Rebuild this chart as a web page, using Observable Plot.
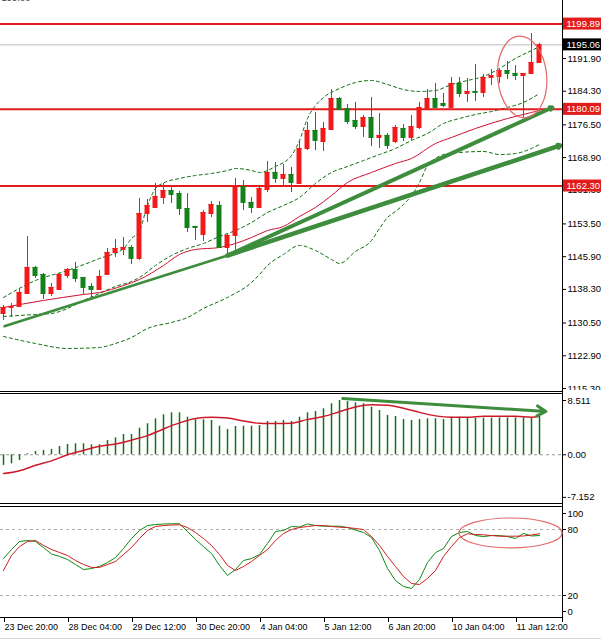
<!DOCTYPE html>
<html>
<head>
<meta charset="utf-8">
<script src="https://cdn.jsdelivr.net/npm/d3@7"></script>
<script src="https://cdn.jsdelivr.net/npm/@observablehq/plot@0.6"></script>
<style>
  html, body { margin: 0; padding: 0; background: #fff; }
  #chart { position: relative; width: 601px; height: 640px; overflow: hidden; background: #fff; }
  #chart svg { position: absolute; left: 0; }
</style>
</head>
<body>
<div id="chart"></div>
<script>
// ---------------- DATA ----------------
const open = [1132.71,1134.11,1134.34,1137.35,1143.39,1141.76,1137.35,1138.28,1141.53,1142.93,
  1141.07,1138.98,1138.28,1141.76,1146.87,1147.57,1148.03,1145.48,1155.92,1157.32,
  1159.64,1161.26,1160.56,1157.08,1152.91,1151.05,1155.92,1157.78,1148.03,1150.82,
  1162.19,1158.48,1157.32,1161.49,1165.44,1164.05,1164.97,1162.89,1171.01,1175.19,
  1172.63,1175.42,1182.61,1180.29,1177.51,1176.11,1178.20,1173.56,1174.03,1172.63,
  1175.65,1173.56,1175.88,1180.29,1182.61,1181.45,1180.53,1186.10,1183.77,1184.24,
  1184.01,1187.49,1187.72,1189.11,1188.42,1187.95,1188.42,1190.97];
const close = [1134.11,1134.34,1137.59,1143.39,1141.53,1137.35,1138.75,1141.76,1142.93,1140.84,
  1138.75,1138.28,1141.30,1146.87,1147.80,1148.03,1145.48,1155.92,1157.78,1159.87,
  1161.26,1160.33,1157.08,1152.67,1152.67,1156.15,1158.01,1148.03,1150.82,1162.19,
  1158.48,1157.32,1161.73,1165.44,1164.05,1164.97,1163.12,1171.01,1175.19,1172.87,
  1175.65,1182.61,1180.06,1177.28,1176.11,1178.20,1173.56,1174.03,1171.71,1175.88,
  1173.56,1176.11,1180.53,1182.61,1180.53,1180.99,1186.10,1183.77,1184.24,1184.01,
  1187.49,1187.95,1189.11,1188.42,1187.95,1188.42,1190.97,1195.06];
const high = [1134.57,1135.03,1138.52,1150.58,1143.62,1142.00,1139.67,1142.00,1143.16,1144.55,
  1141.07,1139.67,1142.69,1147.80,1149.89,1150.35,1148.50,1159.40,1159.17,1162.89,
  1162.89,1161.96,1161.03,1160.56,1152.91,1156.62,1158.71,1158.71,1151.28,1164.05,
  1163.58,1159.64,1161.96,1167.99,1167.76,1167.30,1166.60,1172.87,1177.04,1179.36,
  1177.04,1184.70,1182.85,1181.22,1181.69,1178.67,1182.85,1179.13,1174.49,1176.35,
  1176.58,1178.67,1181.69,1184.70,1186.10,1183.77,1187.49,1187.49,1187.26,1190.51,
  1188.18,1189.35,1189.35,1191.20,1190.27,1188.42,1197.70,1195.38];
const low = [1131.09,1131.78,1134.11,1137.35,1140.84,1135.96,1136.66,1138.05,1140.84,1139.91,
  1137.12,1136.43,1138.28,1141.53,1145.71,1146.17,1144.09,1145.01,1153.83,1157.08,
  1158.01,1158.24,1155.46,1151.51,1149.66,1149.42,1154.99,1147.80,1146.64,1147.33,
  1156.62,1155.92,1157.08,1160.80,1162.89,1162.42,1160.80,1162.65,1170.54,1170.54,
  1170.31,1175.19,1179.83,1176.58,1175.42,1173.56,1171.47,1171.01,1170.78,1172.17,
  1172.63,1172.87,1175.42,1180.06,1180.29,1180.53,1180.29,1182.85,1181.69,1181.92,
  1182.85,1185.63,1186.10,1187.02,1186.79,1177.97,1188.42,1190.97];

// Bollinger bands and red moving average: [bar, price] readings
const bbUpper = [[0,1136.43],[4,1140.37],[8,1142.69],[12,1145.48],[15,1147.80],[16,1150.12],[17,1151.93],
  [18,1157.78],[19,1161.73],[20,1163.0],[22,1164.05],[24,1164.74],[26,1165.21],[28,1165.90],[29,1166.37],
  [31,1165.90],[32,1165.44],[34,1166.83],[36,1169.38],[37,1172.87],[38,1177.97],[39,1180.99],[40,1182.85],
  [42,1184.93],[44,1186.33],[46,1186.79],[48,1185.86],[50,1184.70],[52,1184.24],[54,1184.47],[56,1185.86],
  [58,1186.79],[60,1187.72],[62,1189.58],[64,1191.90],[66,1193.75],[67,1194.68]];
const bbMiddle = [[0,1132.02],[4,1132.48],[6,1132.71],[8,1133.87],[10,1135.73],[12,1137.35],[14,1138.98],
  [16,1140.14],[17,1141.07],[19,1143.85],[21,1146.17],[23,1147.80],[25,1148.96],[27,1150.58],[29,1151.97],
  [31,1153.83],[33,1156.15],[35,1157.78],[37,1159.64],[39,1162.89],[41,1165.44],[43,1166.83],[45,1168.22],
  [47,1169.61],[49,1171.01],[51,1172.87],[53,1174.49],[55,1176.81],[57,1177.97],[59,1178.90],[61,1179.60],
  [63,1180.53],[65,1181.69],[67,1183.77]];
const bbLower = [[0,1127.37],[4,1125.75],[8,1124.59],[12,1124.82],[14,1125.75],[16,1127.14],[18,1129.23],
  [21,1130.62],[23,1131.78],[25,1133.87],[28,1136.43],[31,1139.91],[32,1141.76],[33,1143.85],[35,1146.41],
  [37,1148.50],[39,1147.33],[41,1145.25],[42,1144.32],[44,1147.10],[46,1149.66],[47,1152.44],[48,1154.99],
  [49,1156.39],[50,1158.01],[51,1160.10],[52,1163.12],[53,1167.06],[54,1168.69],[55,1169.61],[57,1170.08],
  [60,1170.31],[62,1169.61],[64,1169.85],[66,1171.01],[67,1171.94]];
const maLine = [[0,1134.11],[5,1135.73],[10,1137.12],[12,1137.59],[15,1139.21],[17,1140.60],[20,1143.85],
  [22,1146.41],[24,1147.57],[27,1148.03],[29,1148.96],[31,1150.35],[33,1151.97],[35,1152.91],[37,1155.23],
  [39,1157.32],[41,1160.10],[43,1163.12],[46,1165.44],[49,1167.53],[51,1168.69],[54,1172.17],[56,1173.56],
  [59,1175.65],[63,1177.97],[66,1179.37],[67,1179.83]];

// Horizontal levels
const levels = [1199.89, 1180.09, 1162.30];
const currentPrice = 1195.06;
const priceTicks = [1191.90,1184.30,1176.50,1168.90,1161.30,1153.50,1145.90,1138.30,1130.50,1122.90,1115.30];

// Drawn trend arrows: bar index / price
const trendStart = {x1: 0, y1: 1129.70, x2: 28, y2: 1146.17};
const trendArrows = [
  {x1: 28, y1: 1146.17, x2: 69.6, y2: 1171.71, w: 4.5},
  {x1: 28, y1: 1146.17, x2: 68.6, y2: 1180.53, w: 4}
];
const mainEllipse = {i: 64.9, p: 1187.5, rx: 3.06, ry: 9.5, rot: -5};

// MACD
const macdHist = [-1.67,-1.41,-0.89,0.15,0.52,0.67,0.83,1.30,1.61,1.72,
  1.72,1.57,1.57,2.24,2.66,3.18,3.18,4.17,4.86,5.64,
  6.27,6.58,6.58,5.89,5.49,5.49,5.38,4.48,3.97,4.44,
  4.48,4.48,4.59,5.22,5.22,5.38,5.22,5.89,6.58,6.79,
  7.21,8.00,8.51,8.35,8.15,8.00,7.46,6.94,6.16,6.00,
  5.53,5.38,5.53,5.64,5.64,5.53,5.89,5.89,5.74,5.74,
  5.74,5.74,5.79,5.79,5.79,5.79,5.69,6.00];
const macdSignal = [[0,-2.95],[2,-2.5],[4,-1.65],[6,-0.95],[8,0.0],[10,0.67],[12,1.33],[14,1.7],[16,2.3],
  [18,3.0],[20,4.05],[22,5.0],[24,5.7],[26,5.9],[28,5.75],[30,5.3],[32,4.93],[34,4.91],[36,4.95],[38,5.55],
  [40,6.0],[42,6.75],[44,7.5],[46,7.84],[48,7.75],[50,7.3],[52,6.65],[54,6.1],[56,5.89],[58,5.89],[60,6.05],
  [62,6.05],[64,6.05],[66,5.9],[67,6.05]];
const macdTicks = [8.511, 0, -7.152];
const macdTickLabels = ["8.511", "0.00", "-7.152"];
const macdArrow = {x1: 42.4, y1: 8.82, x2: 67.8, y2: 6.79};

// Stochastic
const stochK = [53.6,61.8,69.1,70.0,69.1,63.6,57.7,55.5,52.7,48.2,
  43.6,44.5,46.4,50.0,54.5,62.7,71.8,79.1,83.6,84.5,
  85.0,85.2,85.2,78.2,70.9,64.5,58.2,47.3,38.2,43.6,
  51.8,53.6,57.3,67.3,78.2,79.1,82.7,82.3,85.0,83.6,
  83.0,83.0,83.0,81.8,79.5,77.3,72.7,60.9,44.5,33.6,
  28.2,26.4,34.5,50.0,59.0,62.7,73.6,77.3,78.2,74.5,
  73.6,74.5,74.5,73.6,71.8,76.4,74.1,74.5];
const stochD = [42.7,56.4,64.5,69.1,70.0,65.5,61.8,59.1,56.4,51.8,
  48.2,45.5,45.5,48.2,50.9,57.3,63.6,71.8,79.1,82.7,
  83.6,84.1,84.3,81.8,77.3,71.8,65.5,57.3,47.3,42.7,
  46.4,50.9,56.4,61.8,70.0,76.4,80.0,81.8,82.7,83.6,
  83.6,82.7,82.1,81.8,80.9,80.0,73.6,65.5,55.5,46.4,
  37.3,30.9,30.0,35.5,42.7,55.5,64.5,72.7,76.1,75.5,
  75.2,74.5,73.9,73.9,73.9,74.1,75.0,76.1];
const stochLevels = [80, 20];
const stochEllipse = {i: 63.44, v: 76.4, rx: 6.44, ry: 13.6};

// Time axis
const timeTicks = [0, 8, 16, 24, 32, 40, 48, 56, 64];
const timeLabels = ["23 Dec 20:00","28 Dec 04:00","29 Dec 12:00","30 Dec 20:00","4 Jan 04:00",
  "5 Jan 12:00","6 Jan 20:00","10 Jan 04:00","11 Jan 12:00"];

// ---------------- DRAWING ----------------
const FONT = "'Liberation Sans', Arial, sans-serif";
const W = 601, MR = 39;
const xDomain = [-0.375, 69.875];
const UP = "#f01a1a", DOWN = "#13821a";
const BAND = "#0b6b0b", ARROW = "#3d8d3d";
const bars = d3.range(open.length);
const candles = bars.map(i => ({i, o: open[i], h: high[i], l: low[i], c: close[i]}));
const ccol = d => d.c >= d.o ? UP : DOWN;
const pair = a => a.map(([i, v]) => ({i, v}));
const HW = 0.31;

const base = (h, mt, mb, ydom) => ({
  width: W, height: h, marginLeft: 0, marginRight: MR, marginTop: mt, marginBottom: mb,
  x: {domain: xDomain, axis: null},
  y: {domain: ydom, axis: null},
  color: {type: "identity"},
  style: `font-family: ${FONT}; font-size: 9.5px; background: #fff; color: #000; overflow: hidden; max-width: none;`
});
const bandLine = (a) => Plot.line(pair(a), {x: "i", y: "v", stroke: BAND, strokeWidth: 1, strokeDasharray: "3,3", curve: "monotone-x"});

const main = Plot.plot({
  ...base(392, 0, 0, [1114.37, 1205.36]),
  marks: [
    Plot.ruleY([currentPrice], {stroke: "#bdbdbd", strokeWidth: 1}),
    bandLine(bbUpper), bandLine(bbMiddle), bandLine(bbLower),
    Plot.line(pair(maLine), {x: "i", y: "v", stroke: "#cc1133", strokeWidth: 1, curve: "monotone-x"}),
    Plot.ruleY(levels, {stroke: "#e21b1b", strokeWidth: 2}),
    Plot.ruleX(candles, {x: "i", y1: "l", y2: "h", stroke: ccol, strokeWidth: 1}),
    Plot.rect(candles, {x1: d => d.i - HW, x2: d => d.i + HW, y1: "o", y2: "c", fill: ccol}),
    Plot.ruleY(candles, {x1: d => d.i - HW, x2: d => d.i + HW, y: "o", stroke: ccol}),
    Plot.ruleY(candles, {x1: d => d.i - HW, x2: d => d.i + HW, y: "c", stroke: ccol}),
    Plot.link([trendStart], {x1: "x1", y1: "y1", x2: "x2", y2: "y2", stroke: ARROW, strokeWidth: 2.5}),
    Plot.arrow(trendArrows, {x1: "x1", y1: "y1", x2: "x2", y2: "y2", stroke: ARROW, strokeWidth: d => d.w, headLength: 4}),
    Plot.axisY(priceTicks, {anchor: "right", tickSize: 3, tickPadding: 2, tickFormat: d => d.toFixed(2)}),
    Plot.text(["199.00"], {frameAnchor: "top-left", text: d => d, dx: 1, dy: 0, lineAnchor: "bottom", fill: "#444"})
  ]
});

const macd = Plot.plot({
  ...base(116, 10, 6.1, [-7.152, 8.511]),
  marks: [
    Plot.ruleY([0], {stroke: "#9a9a9a", strokeDasharray: "3,3"}),
    Plot.ruleX(bars, {x: d => d, y1: 0, y2: i => macdHist[i], stroke: "#137013", strokeWidth: 1.5}),
    Plot.line(pair(macdSignal), {x: "i", y: "v", stroke: "#cc1a2a", strokeWidth: 1.5, curve: "monotone-x"}),
    Plot.arrow([macdArrow], {x1: "x1", y1: "y1", x2: "x2", y2: "y2", stroke: ARROW, strokeWidth: 3, headLength: 5}),
    Plot.axisY(macdTicks.slice(0, 2), {anchor: "right", tickSize: 3, tickPadding: 2, tickFormat: d => macdTickLabels[macdTicks.indexOf(d)]}),
    Plot.axisY(macdTicks.slice(2), {anchor: "right", tickSize: 3, tickPadding: 2, dy: -3, tickFormat: d => macdTickLabels[macdTicks.indexOf(d)]})
  ]
});

const stoch = Plot.plot({
  ...base(134, 1, 23, [0, 100]),
  marks: [
    Plot.ruleY(stochLevels, {stroke: "#b0b0b0", strokeDasharray: "3,3"}),
    Plot.line(bars, {x: d => d, y: i => stochK[i], stroke: "#118811", strokeWidth: 1}),
    Plot.line(bars, {x: d => d, y: i => stochD[i], stroke: "#cc1f1f", strokeWidth: 1}),
    Plot.axisY(stochLevels, {anchor: "right", tickSize: 3, tickPadding: 2}),
    Plot.axisY([100], {anchor: "right", tickSize: 3, tickPadding: 2, dy: 6}),
    Plot.axisY([0], {anchor: "right", tickSize: 3, tickPadding: 2, dy: -6}),
    Plot.axisX(timeTicks, {anchor: "bottom", tickSize: 5, tickPadding: 1, textAnchor: "start", dx: 1, fontSize: 9,
      tickFormat: d => timeLabels[timeTicks.indexOf(d)]})
  ]
});

const chart = document.getElementById("chart");
[[main, 0], [macd, 390], [stoch, 506]].forEach(([svg, top]) => {
  svg.style.position = "absolute";
  svg.style.top = top + "px";
  svg.style.left = "0px";
  chart.appendChild(svg);
});

const AX = W - MR + 0.5;
function hline(svg, y, x2 = AX, color = "#000") {
  d3.select(svg).append("line").attr("x1", 0).attr("x2", x2).attr("y1", y).attr("y2", y)
    .attr("stroke", color).attr("stroke-width", 1);
}
function vline(svg, y1, y2) {
  d3.select(svg).append("line").attr("x1", AX).attr("x2", AX).attr("y1", y1).attr("y2", y2)
    .attr("stroke", "#000").attr("stroke-width", 1);
}
vline(main, 0, 392);
vline(macd, 0, 116);
vline(stoch, 0, 116);
hline(macd, 1.5); hline(macd, 3.5); hline(macd, 113.5);
hline(stoch, 0.5); hline(stoch, 111.5);
hline(stoch, 132.5, W, "#d8d8d8");

// Price tags on the right axis
const sy = main.scale("y"), sx = main.scale("x");
const tags = levels.map(v => ({v, bg: "#e21b1b"})).concat([{v: currentPrice, bg: "#000"}]);
const gm = d3.select(main);
tags.forEach(t => {
  const y = sy.apply(t.v);
  gm.append("rect").attr("x", AX + 0.5).attr("y", y - 6).attr("width", W - AX).attr("height", 12).attr("fill", t.bg);
  gm.append("text").attr("x", AX + 4).attr("y", y + 3.4).attr("fill", "#fff")
    .attr("text-anchor", "start")
    .attr("font-family", FONT).attr("font-size", "9.5px").text(t.v.toFixed(2));
});

// Ellipses
function ellipse(svg, scx, scy, e, yv) {
  const cx = scx.apply(e.i), cy = scy.apply(yv);
  const rx = scx.apply(e.i + e.rx) - cx, ry = Math.abs(scy.apply(yv - e.ry) - cy);
  d3.select(svg).append("ellipse").attr("cx", cx).attr("cy", cy).attr("rx", rx).attr("ry", ry)
    .attr("fill", "none").attr("stroke", "#e06a6a").attr("stroke-width", 1.2)
    .attr("transform", `rotate(${e.rot || 0},${cx},${cy})`);
}
ellipse(main, sx, sy, mainEllipse, mainEllipse.p);
ellipse(stoch, stoch.scale("x"), stoch.scale("y"), stochEllipse, stochEllipse.v);
</script>
</body>
</html>
